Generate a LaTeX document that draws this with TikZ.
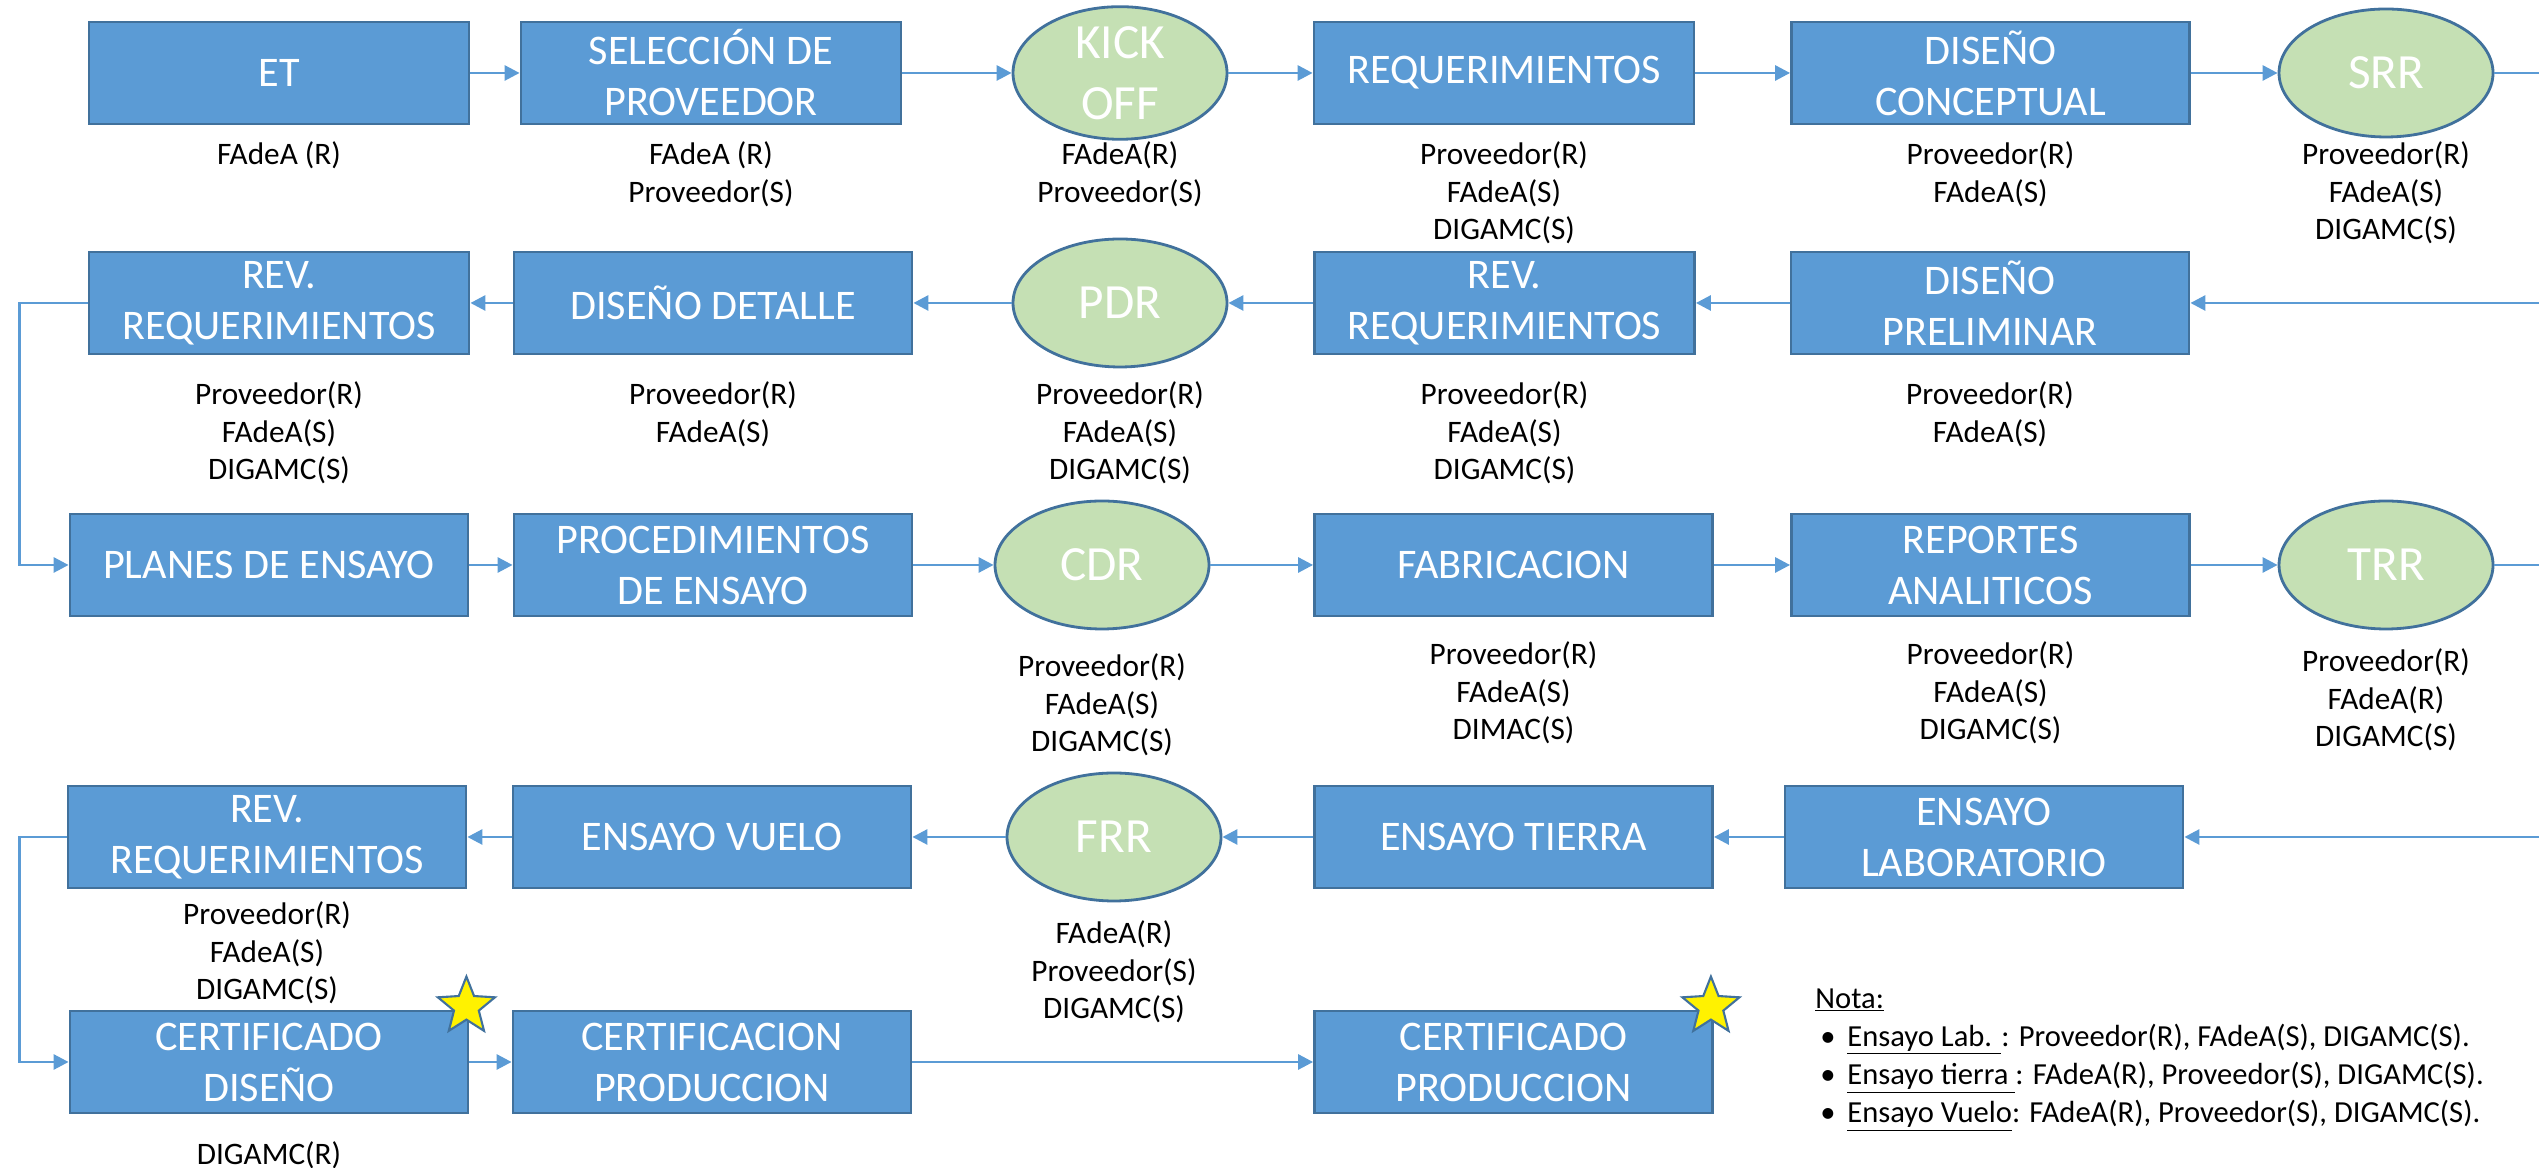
\documentclass[tikz,border=0pt]{standalone}
\usepackage{fontspec}
\setmainfont{Carlito}
\usetikzlibrary{arrows.meta,shapes.geometric}
\definecolor{cajaazul}{HTML}{5B9BD5}
\definecolor{bordeazul}{HTML}{41719C}
\definecolor{verdehito}{HTML}{C5E0B4}
\tikzset{
every picture/.style={
line width=1.6pt
},
caja/.style={rectangle, draw=bordeazul, fill=cajaazul, text=white, align=center,
  minimum width=7.96cm, minimum height=2.04cm, inner sep=2pt,
  font=\fontsize{24}{29}\selectfont},
angosta/.style={caja, minimum width=7.6cm},
hito/.style={ellipse, draw=bordeazul, fill=verdehito, text=white, align=center,
  minimum width=4.28cm, minimum height=2.56cm, inner sep=0pt,
  font=\fontsize{28}{35}\selectfont},
resp/.style={anchor=north, align=center, inner sep=0pt,
  font=\fontsize{17.8}{21.5}\selectfont},
flecha/.style={draw=cajaazul, -{Triangle[length=0.3cm,width=0.3cm]}},
linea/.style={draw=cajaazul},
estrella/.style={star, star points=5, star point ratio=2.3, minimum size=1.2cm,
  inner sep=0pt, fill=yellow, draw=bordeazul, line width=1.2pt}
}

\begin{document}
\begin{tikzpicture}
\useasboundingbox (0,0) rectangle (50.78,23.36);
% fila 1
\node[angosta] (et) at (5.58,21.9) {ET};
\node[angosta] (sel) at (14.22,21.9) {SELECCIÓN DE\\PROVEEDOR};
\node[hito] (ko) at (22.4,21.9) {KICK\\OFF};
\node[angosta] (req) at (30.08,21.9) {REQUERIMIENTOS};
\node[caja] (dc) at (39.81,21.9) {DISEÑO\\CONCEPTUAL};
\node[hito] (srr) at (47.72,21.9) {SRR};
% fila 2
\node[angosta] (rev1) at (5.58,17.3) {REV.\\REQUERIMIENTOS};
\node[caja] (dd) at (14.26,17.3) {DISEÑO DETALLE};
\node[hito] (pdr) at (22.4,17.3) {PDR};
\node[angosta] (rev2) at (30.09,17.3) {REV.\\REQUERIMIENTOS};
\node[caja] (dp) at (39.8,17.3) {DISEÑO\\PRELIMINAR};
% fila 3
\node[caja] (planes) at (5.38,12.06) {PLANES DE ENSAYO};
\node[caja] (proc) at (14.26,12.06) {PROCEDIMIENTOS\\DE ENSAYO};
\node[hito] (cdr) at (22.04,12.06) {CDR};
\node[caja] (fab) at (30.27,12.06) {FABRICACION};
\node[caja] (rep) at (39.81,12.06) {REPORTES\\ANALITICOS};
\node[hito] (trr) at (47.72,12.06) {TRR};
% fila 4
\node[caja] (rev3) at (5.34,6.62) {REV.\\REQUERIMIENTOS};
\node[caja] (vuelo) at (14.24,6.62) {ENSAYO VUELO};
\node[hito] (frr) at (22.28,6.62) {FRR};
\node[caja] (tierra) at (30.27,6.62) {ENSAYO TIERRA};
\node[caja] (lab) at (39.68,6.62) {ENSAYO\\LABORATORIO};
% fila 5
\node[caja] (cdis) at (5.38,2.12) {CERTIFICADO\\DISEÑO};
\node[caja] (cprod1) at (14.24,2.12) {CERTIFICACION\\PRODUCCION};
\node[caja] (cprod2) at (30.27,2.12) {CERTIFICADO\\PRODUCCION};
\node[estrella] (st1) at ([xshift=-0.06cm,yshift=0.06cm]cdis.north east) {};
\node[estrella] (st2) at ([xshift=-0.06cm,yshift=0.06cm]cprod2.north east) {};

% responsables
\node[resp] (et-r) at (et |- 0,20.56) {FAdeA (R)};
\node[resp] (sel-r) at (sel |- 0,20.56) {FAdeA (R)\\Proveedor(S)};
\node[resp] (ko-r) at (ko |- 0,20.56) {FAdeA(R)\\Proveedor(S)};
\node[resp] (req-r) at (req |- 0,20.56) {Proveedor(R)\\FAdeA(S)\\DIGAMC(S)};
\node[resp] (dc-r) at (dc |- 0,20.56) {Proveedor(R)\\FAdeA(S)};
\node[resp] (srr-r) at (srr |- 0,20.56) {Proveedor(R)\\FAdeA(S)\\DIGAMC(S)};
\node[resp] (rev1-r) at (rev1 |- 0,15.76) {Proveedor(R)\\FAdeA(S)\\DIGAMC(S)};
\node[resp] (dd-r) at (dd |- 0,15.76) {Proveedor(R)\\FAdeA(S)};
\node[resp] (pdr-r) at (pdr |- 0,15.76) {Proveedor(R)\\FAdeA(S)\\DIGAMC(S)};
\node[resp] (rev2-r) at (rev2 |- 0,15.76) {Proveedor(R)\\FAdeA(S)\\DIGAMC(S)};
\node[resp] (dp-r) at (dp |- 0,15.76) {Proveedor(R)\\FAdeA(S)};
\node[resp] (cdr-r) at (cdr |- 0,10.32) {Proveedor(R)\\FAdeA(S)\\DIGAMC(S)};
\node[resp] (fab-r) at (fab |- 0,10.56) {Proveedor(R)\\FAdeA(S)\\DIMAC(S)};
\node[resp] (rep-r) at (rep |- 0,10.56) {Proveedor(R)\\FAdeA(S)\\DIGAMC(S)};
\node[resp] (trr-r) at (trr |- 0,10.42) {Proveedor(R)\\FAdeA(R)\\DIGAMC(S)};
\node[resp] (rev3-r) at (rev3 |- 0,5.36) {Proveedor(R)\\FAdeA(S)\\DIGAMC(S)};
\node[resp] (frr-r) at (frr |- 0,4.98) {FAdeA(R)\\Proveedor(S)\\DIGAMC(S)};
\node[resp] (cdis-r) at (cdis |- 0,0.56) {DIGAMC(R)};

% nota
\node[anchor=north west, align=left, inner sep=0pt,
  font=\fontsize{17.4}{21.8}\selectfont] (nota) at (36.28,3.62) {\underline{Nota:}\\
  \hspace*{0.1cm}\makebox[0.54cm][l]{\textbullet}\underline{Ensayo Lab. }: Proveedor(R), FAdeA(S), DIGAMC(S).\\
  \hspace*{0.1cm}\makebox[0.54cm][l]{\textbullet}\underline{Ensayo tierra }: FAdeA(R), Proveedor(S), DIGAMC(S).\\
  \hspace*{0.1cm}\makebox[0.54cm][l]{\textbullet}\underline{Ensayo Vuelo}: FAdeA(R), Proveedor(S), DIGAMC(S).};

% bordes derechos
\coordinate (b1) at (50.78,21.9);
\coordinate (b2) at (50.78,17.3);
\coordinate (b3) at (50.78,12.06);
\coordinate (b4) at (50.78,6.62);

% conexiones
\draw[flecha] (et) -- (sel);
\draw[flecha] (sel) -- (ko);
\draw[flecha] (ko) -- (req);
\draw[flecha] (req) -- (dc);
\draw[flecha] (dc) -- (srr);
\draw[linea] (srr) -- (b1);
\draw[flecha] (b2) -- (dp);
\draw[flecha] (dp) -- (rev2);
\draw[flecha] (rev2) -- (pdr);
\draw[flecha] (pdr) -- (dd);
\draw[flecha] (dd) -- (rev1);
\draw[flecha] (rev1.west) -- ++(-1.36,0) |- (planes.west);
\draw[flecha] (planes) -- (proc);
\draw[flecha] (proc) -- (cdr);
\draw[flecha] (cdr) -- (fab);
\draw[flecha] (fab) -- (rep);
\draw[flecha] (rep) -- (trr);
\draw[linea] (trr) -- (b3);
\draw[flecha] (b4) -- (lab);
\draw[flecha] (lab) -- (tierra);
\draw[flecha] (tierra) -- (frr);
\draw[flecha] (frr) -- (vuelo);
\draw[flecha] (vuelo) -- (rev3);
\draw[flecha] (rev3.west) -- ++(-0.94,0) |- (cdis.west);
\draw[flecha] (cdis) -- (cprod1);
\draw[flecha] (cprod1) -- (cprod2);
\end{tikzpicture}
\end{document}
